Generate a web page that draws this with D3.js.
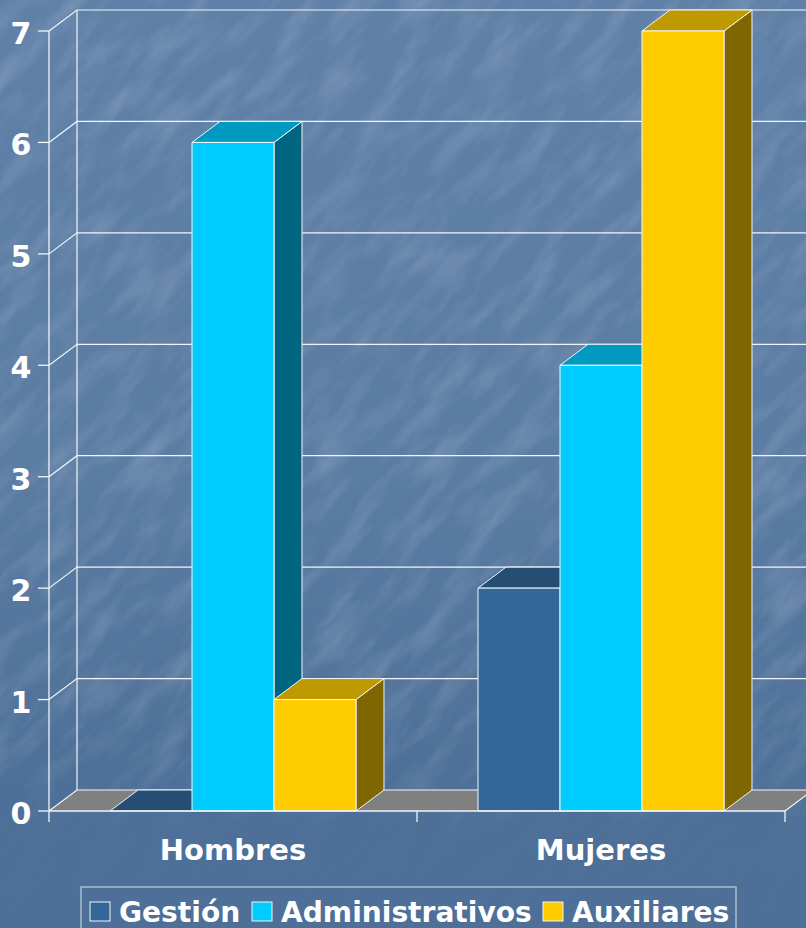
<!DOCTYPE html>
<html><head><meta charset="utf-8">
<script src="https://cdn.jsdelivr.net/npm/d3@7"></script>
<style>html,body{margin:0;padding:0;background:#4d6f98;overflow:hidden}svg{display:block}
text{font-family:"DejaVu Sans",sans-serif;font-weight:bold;fill:#fff}</style></head>
<body><div id="c"></div>
<script>
const categories = ["Hombres", "Mujeres"];
const seriesNames = ["Gestión", "Administrativos", "Auxiliares"];
const gestion = [0, 2];
const administrativos = [6, 4];
const auxiliares = [1, 7];
const yTicks = [0, 1, 2, 3, 4, 5, 6, 7];
const frontColors = ["#336699", "#00ccff", "#ffcc00"];
const topColors = ["#264d73", "#0099bf", "#bf9900"];
const sideColors = ["#1a3350", "#006680", "#806600"];

const W = 806, H = 928;
const plot = {l: 49, r: 785, t: 31, b: 811};
const dx = 28, dy = -21, floorColor = "#808080", lineColor = "#f2f5f8";

const svg = d3.select("#c").append("svg").attr("width", W).attr("height", H);
const defs = svg.append("defs");
const g = defs.append("linearGradient").attr("id", "bg").attr("x1", 0).attr("y1", 0).attr("x2", 0).attr("y2", 1);
[[0, "#6080a8"], [0.5, "#5b7ca3"], [0.85, "#4e7098"], [1, "#4c6e96"]].forEach(d => g.append("stop").attr("offset", d[0]).attr("stop-color", d[1]));
const f = defs.append("filter").attr("id", "tex").attr("x", 0).attr("y", 0).attr("width", 1).attr("height", 1);
f.append("feTurbulence").attr("type", "fractalNoise").attr("baseFrequency", "0.015 0.05").attr("numOctaves", 4).attr("seed", 7);
f.append("feColorMatrix").attr("type", "matrix").attr("values", "0 0 0 0 1  0 0 0 0 1  0 0 0 0 1  1.5 0 0 0 -0.62");

svg.append("rect").attr("width", W).attr("height", H).attr("fill", "url(#bg)");
svg.append("g").attr("transform", `rotate(-48 ${W/2} ${H/2})`).attr("opacity", 0.2)
  .append("rect").attr("x", -300).attr("y", -300).attr("width", W + 600).attr("height", H + 600).attr("filter", "url(#tex)");
const fade = defs.append("linearGradient").attr("id", "fade").attr("x1", 0).attr("y1", 0).attr("x2", 0).attr("y2", 1);
[[0, 0], [0.8, 0], [0.9, 0.9], [1, 1]].forEach(d => fade.append("stop").attr("offset", d[0]).attr("stop-color", "#4d6f98").attr("stop-opacity", d[1]));
svg.append("rect").attr("width", W).attr("height", H).attr("fill", "url(#fade)");

const y = d3.scaleLinear().domain([0, 7]).range([plot.b, plot.t]);
const x0 = d3.scaleBand().domain(categories).range([plot.l, plot.r]).paddingInner(0).paddingOuter(0);
const x1 = d3.scaleBand().domain(seriesNames).range([0, x0.bandwidth()]).paddingInner(0).paddingOuter(0.744);
const pts = a => a.map(p => p.join(",")).join(" ");

svg.append("polygon").attr("fill", floorColor)
  .attr("points", pts([[plot.l, plot.b], [plot.r, plot.b], [plot.r + dx, plot.b + dy], [plot.l + dx, plot.b + dy]]));

const grid = svg.append("g").attr("stroke", lineColor).attr("stroke-width", 1.2).attr("fill", "none");
grid.selectAll("path.w").data(yTicks).join("path").attr("class", "w")
  .attr("d", d => `M${plot.l},${y(d)}L${plot.l + dx},${y(d) + dy}L${plot.r + dx},${y(d) + dy}`);
grid.append("line").attr("x1", plot.l + dx).attr("x2", plot.l + dx).attr("y1", y(7) + dy).attr("y2", y(0) + dy);
grid.append("line").attr("x1", plot.r).attr("x2", plot.r + dx).attr("y1", y(0)).attr("y2", y(0) + dy);

const values = [gestion, administrativos, auxiliares];
const bars = svg.append("g").attr("stroke", lineColor).attr("stroke-width", 1).attr("stroke-linejoin", "round");
categories.forEach((c, ci) => {
  seriesNames.forEach((s, si) => {
    const v = values[si][ci];
    const xa = x0(c) + x1(s), xb = xa + x1.bandwidth(), yt = y(v), yb = y(0);
    const b = bars.append("g").attr("class", "bar");
    if (v > 0) b.append("polygon").attr("fill", sideColors[si])
      .attr("points", pts([[xb, yb], [xb + dx, yb + dy], [xb + dx, yt + dy], [xb, yt]]));
    b.append("polygon").attr("fill", topColors[si])
      .attr("points", pts([[xa, yt], [xb, yt], [xb + dx, yt + dy], [xa + dx, yt + dy]]));
    if (v > 0) b.append("rect").attr("fill", frontColors[si]).attr("x", xa).attr("y", yt).attr("width", xb - xa).attr("height", yb - yt);
  });
});

const ax = svg.append("g").attr("stroke", lineColor).attr("stroke-width", 1.3);
ax.append("line").attr("x1", plot.l).attr("x2", plot.l).attr("y1", y(7)).attr("y2", y(0));
ax.append("line").attr("x1", plot.l).attr("x2", plot.r).attr("y1", y(0)).attr("y2", y(0));
ax.selectAll("line.yt").data(yTicks).join("line").attr("class", "yt")
  .attr("x1", plot.l - 11).attr("x2", plot.l).attr("y1", d => y(d)).attr("y2", d => y(d));
ax.selectAll("line.xt").data([plot.l, plot.l + x0.bandwidth(), plot.r]).join("line").attr("class", "xt")
  .attr("x1", d => d).attr("x2", d => d).attr("y1", y(0)).attr("y2", y(0) + 11);

svg.selectAll("text.yl").data(yTicks).join("text").attr("class", "yl")
  .attr("x", 21).attr("y", d => y(d) + 13).attr("text-anchor", "middle").attr("font-size", 30).text(d => d);
svg.selectAll("text.xl").data(categories).join("text").attr("class", "xl")
  .attr("x", d => x0(d) + x0.bandwidth() / 2).attr("y", 860)
  .attr("text-anchor", "middle").attr("font-size", 29).text(d => d);

const lg = svg.append("g");
lg.append("rect").attr("x", 81).attr("y", 887).attr("width", 655).attr("height", 60).attr("fill", "none").attr("stroke", "#c4cfdc").attr("stroke-width", 1.2);
const swatchX = [90, 252, 543];
seriesNames.forEach((s, i) => {
  lg.append("rect").attr("x", swatchX[i]).attr("y", 902).attr("width", 20).attr("height", 19)
    .attr("fill", frontColors[i]).attr("stroke", lineColor).attr("stroke-width", 1);
  lg.append("text").attr("x", swatchX[i] + 29).attr("y", 921.5).attr("font-size", 28.1).text(s);
});
</script></body></html>
